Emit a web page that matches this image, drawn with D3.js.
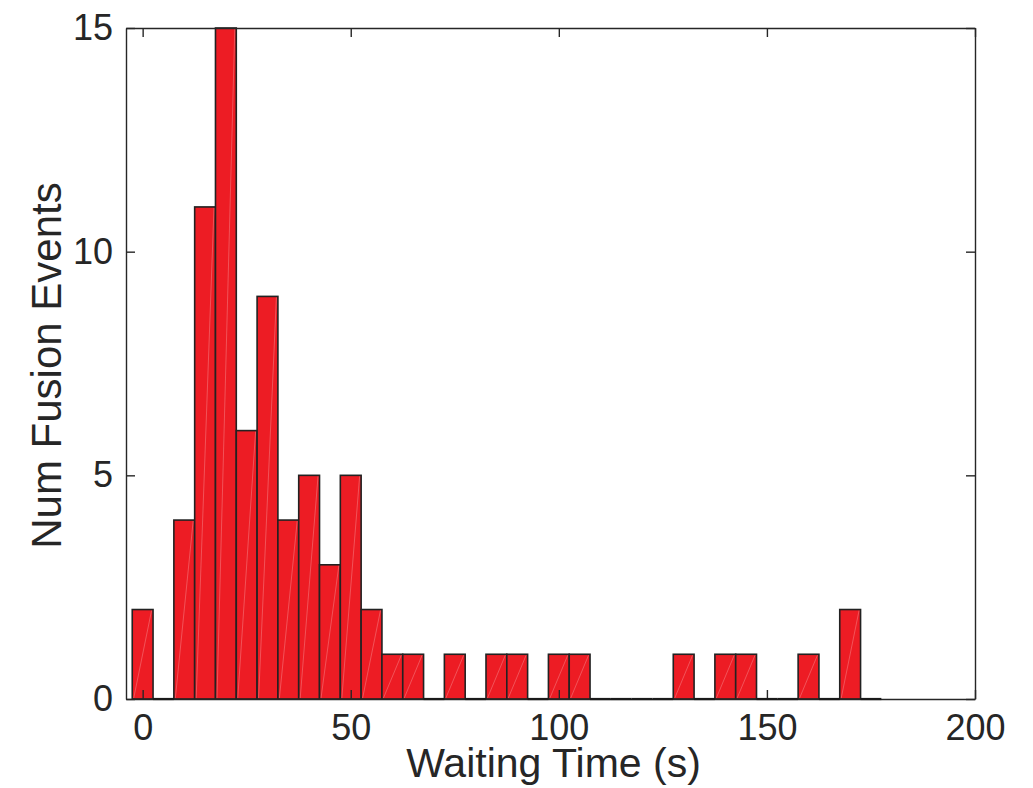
<!DOCTYPE html>
<html>
<head>
<meta charset="utf-8">
<script src="https://cdn.jsdelivr.net/npm/d3@7"></script>
<style>
  html, body { margin: 0; padding: 0; background: #fff; }
  svg { display: block; }
  text { font-family: "Liberation Sans", Arial, Helvetica, sans-serif; fill: #262626; }
</style>
</head>
<body>
<svg id="chart" width="1033" height="788"></svg>
<script>
// Histogram bins (centre of each 5 s bin) and counts
const binCenters = [0,5,10,15,20,25,30,35,40,45,50,55,60,65,70,75,80,85,90,95,100,105,110,115,120,125,130,135,140,145,150,155,160,165,170,175];
const counts     = [2,0,4,11,15,6,9,4,5,3,5,2,1,1,0,1,0,1,1,0,1,1,0,0,0,0,1,0,1,1,0,0,1,0,2,0];
const binWidth = 5;
const xTicks = [0, 50, 100, 150, 200];
const yTicks = [0, 5, 10, 15];
const xDomain = [-4, 200];
const yDomain = [0, 15];
const xTitle = "Waiting Time (s)";
const yTitle = "Num Fusion Events";

const svg = d3.select("#chart");
const L = 126, R = 975, T = 28, B = 699;
const x = d3.scaleLinear().domain(xDomain).range([L, R]);
const y = d3.scaleLinear().domain(yDomain).range([B, T]);

const bins = binCenters.map((c, i) => ({x0: c - binWidth/2, x1: c + binWidth/2, n: counts[i]}));

const axisColor = "#262626";
const fs = 36;

// plot frame (bottom/left drawn by axes, top/right below)
const g = svg.append("g");

// bars (non-empty)
g.selectAll("rect.bar").data(bins.filter(d => d.n > 0)).join("rect")
  .attr("class", "bar")
  .attr("x", d => x(d.x0))
  .attr("y", d => y(d.n))
  .attr("width", d => x(d.x1) - x(d.x0))
  .attr("height", d => y(0) - y(d.n))
  .attr("fill", "#ed1c24")
  .attr("stroke", "#222")
  .attr("stroke-width", 1.6);

// faint diagonal artifacts inside bars
g.selectAll("line.diag").data(bins.filter(d => d.n > 0)).join("line")
  .attr("class", "diag")
  .attr("x1", d => x(d.x0) + 1.5)
  .attr("y1", y(0) - 1)
  .attr("x2", d => x(d.x1) - 1.5)
  .attr("y2", d => y(d.n) + 1)
  .attr("stroke", "#fff")
  .attr("stroke-opacity", 0.3)
  .attr("stroke-width", 0.8);

// axes (ticks inward, MATLAB style)
const xAxis = svg.append("g").attr("transform", `translate(0,${B})`)
  .call(d3.axisBottom(x).tickValues(xTicks).tickSizeInner(-9).tickSizeOuter(0).tickPadding(15));
const xTop = svg.append("g").attr("transform", `translate(0,${T})`)
  .call(d3.axisTop(x).tickValues(xTicks).tickSizeInner(-9).tickSizeOuter(0).tickFormat(""));
const yAxis = svg.append("g").attr("transform", `translate(${L},0)`)
  .call(d3.axisLeft(y).tickValues(yTicks).tickSizeInner(-9).tickSizeOuter(0).tickPadding(13));
const yRight = svg.append("g").attr("transform", `translate(${R},0)`)
  .call(d3.axisRight(y).tickValues(yTicks).tickSizeInner(-9).tickSizeOuter(0).tickFormat(""));

[xAxis, xTop, yAxis, yRight].forEach(a => {
  a.select(".domain").attr("stroke", axisColor).attr("stroke-width", 1.4);
  a.selectAll(".tick line").attr("stroke", axisColor).attr("stroke-width", 1.4);
  a.selectAll(".tick text").style("font-size", fs + "px")
    .style("font-family", '"Liberation Sans", Arial, Helvetica, sans-serif')
    .attr("fill", "#262626");
});

// empty bins drawn as flat dark lines on the baseline
svg.append("g").selectAll("line.empty").data(bins.filter(d => d.n === 0)).join("line")
  .attr("class", "empty")
  .attr("x1", d => x(d.x0))
  .attr("x2", d => x(d.x1))
  .attr("y1", y(0))
  .attr("y2", y(0))
  .attr("stroke", "#1a1a1a")
  .attr("stroke-width", 2.2);

// axis titles
svg.append("text")
  .attr("x", (L + R) / 2 + 3)
  .attr("y", 777)
  .attr("text-anchor", "middle")
  .style("font-size", "41px")
  .text(xTitle);

svg.append("text")
  .attr("transform", `translate(61,${(T + B) / 2 + 2}) rotate(-90)`)
  .attr("text-anchor", "middle")
  .style("font-size", "42px")
  .text(yTitle);
</script>
</body>
</html>
